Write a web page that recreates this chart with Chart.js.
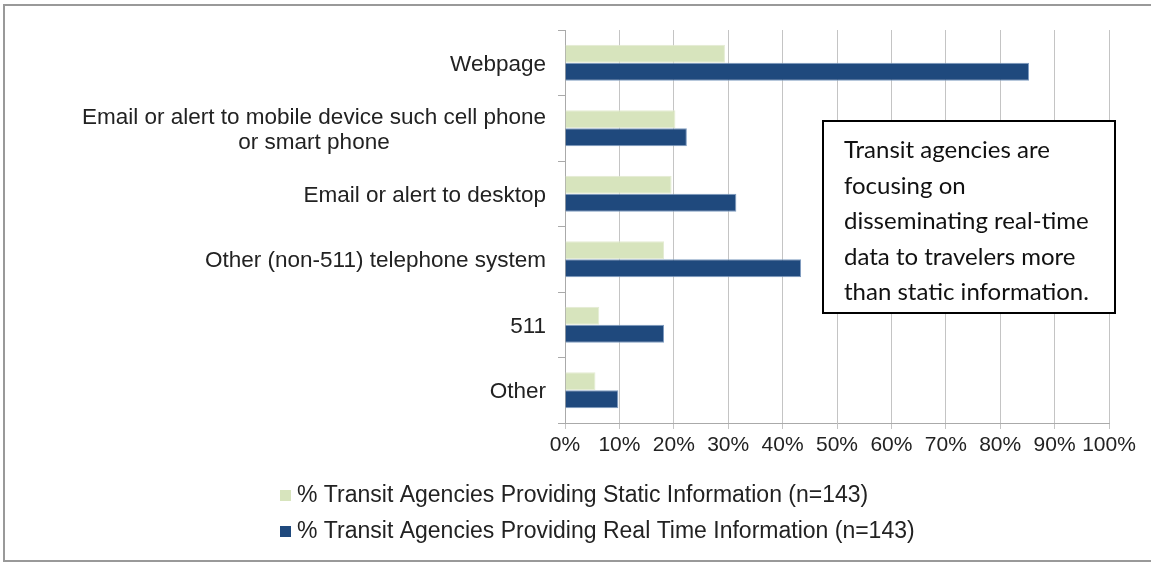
<!DOCTYPE html>
<html>
<head>
<meta charset="utf-8">
<script src="https://cdn.jsdelivr.net/npm/chart.js@4/dist/chart.umd.min.js"></script>
<style>
  html, body { margin: 0; padding: 0; background: #fff; }
  #wrap { width: 1151px; height: 562px; position: relative; }
</style>
</head>
<body>
<div id="wrap"><canvas id="mainChart" width="1151" height="562"></canvas></div>
<script>
// categories, top to bottom
const categories = [
    ['Webpage'],
    ['Email or alert to mobile device such cell phone', 'or smart phone'],
    ['Email or alert to desktop'],
    ['Other (non-511) telephone system'],
    ['511'],
    ['Other']
];
const staticInfo = [29.4, 20.3, 19.6, 18.2, 6.3, 5.6];
const realTimeInfo = [85.3, 22.4, 31.5, 43.4, 18.2, 9.8];
const seriesNames = [
    '% Transit Agencies Providing Static Information (n=143)',
    '% Transit Agencies Providing Real Time Information (n=143)'
];
const noteLines = [
    'Transit agencies are',
    'focusing on',
    'disseminating real-time',
    'data to travelers more',
    'than static information.'
];

const FONT = '"Liberation Sans", Arial, sans-serif';

// draws the category labels (centred block, right aligned), legend, note box and frame
const extras = {
    id: 'extras',
    afterDraw(chart) {
        const ctx = chart.ctx;
        const y = chart.scales.y;
        ctx.save();

        // outer frame (top, left, bottom)
        ctx.strokeStyle = '#999';
        ctx.lineWidth = 2;
        ctx.beginPath();
        ctx.moveTo(1151, 5); ctx.lineTo(4, 5); ctx.lineTo(4, 561); ctx.lineTo(1151, 561);
        ctx.stroke();

        // y labels
        ctx.font = '22.5px ' + FONT;
        ctx.fillStyle = '#222';
        ctx.textBaseline = 'middle';
        ctx.textAlign = 'center';
        const rightX = y.right - 19;
        const lineH = 25;
        chart.data.labels.forEach((lines, i) => {
            const cy = y.getPixelForTick(i) + 2;
            const maxW = Math.max(...lines.map(l => ctx.measureText(l).width));
            const cx = rightX - maxW / 2;
            lines.forEach((l, k) => {
                ctx.fillText(l, cx, cy + (k - (lines.length - 1) / 2) * lineH);
            });
        });

        // legend
        ctx.font = '23px ' + FONT;
        const colors = chart.data.datasets.map(d => d.backgroundColor);
        chart.data.datasets.forEach((d, i) => {
            const ly = 495 + i * 36;
            ctx.fillStyle = colors[i];
            ctx.fillRect(280, ly - 5, 11, 11);
            ctx.fillStyle = '#222';
            ctx.textAlign = 'left';
            ctx.fillText(d.label, 297, ly + 1);
        });

        // note box
        ctx.fillStyle = '#fff';
        ctx.fillRect(823, 121, 292, 192);
        ctx.strokeStyle = '#000';
        ctx.lineWidth = 2;
        ctx.strokeRect(823, 121, 292, 192);
        ctx.fillStyle = '#111';
        ctx.font = '24px Lato, "Open Sans", sans-serif';
        ctx.textBaseline = 'alphabetic';
        noteLines.forEach((l, k) => ctx.fillText(l, 844, 158 + k * 35.5));

        ctx.restore();
    }
};

const ctx = document.getElementById('mainChart').getContext('2d');
new Chart(ctx, {
    type: 'bar',
    data: {
        labels: categories,
        datasets: [
            { label: seriesNames[0], data: staticInfo, backgroundColor: '#d7e4bd', borderColor: '#e4ecd3', borderWidth: 1 },
            { label: seriesNames[1], data: realTimeInfo, backgroundColor: '#1f497d', borderColor: '#7f9cc0', borderWidth: 1 }
        ]
    },
    options: {
        indexAxis: 'y',
        responsive: false,
        animation: false,
        layout: { padding: { top: 30, right: 42, bottom: 0, left: 0 } },
        plugins: { legend: { display: false }, tooltip: { enabled: false } },
        datasets: { bar: { categoryPercentage: 0.55, barPercentage: 1 } },
        scales: {
            x: {
                min: 0, max: 100,
                ticks: {
                    stepSize: 10, callback: v => v + '%', color: '#222',
                    font: { family: FONT, size: 21 }, padding: 4,
                    maxRotation: 0, minRotation: 0, autoSkip: false
                },
                grid: { color: '#c4c4c4', tickLength: 6 },
                border: { color: '#aaa' },
                afterFit: s => { s.height = 139; }
            },
            y: {
                ticks: { display: false },
                grid: { offset: true, drawOnChartArea: false, tickLength: 7, color: '#aaa' },
                border: { color: '#aaa' },
                afterFit: s => { s.width = 565; }
            }
        }
    },
    plugins: [extras]
});
</script>
</body>
</html>
